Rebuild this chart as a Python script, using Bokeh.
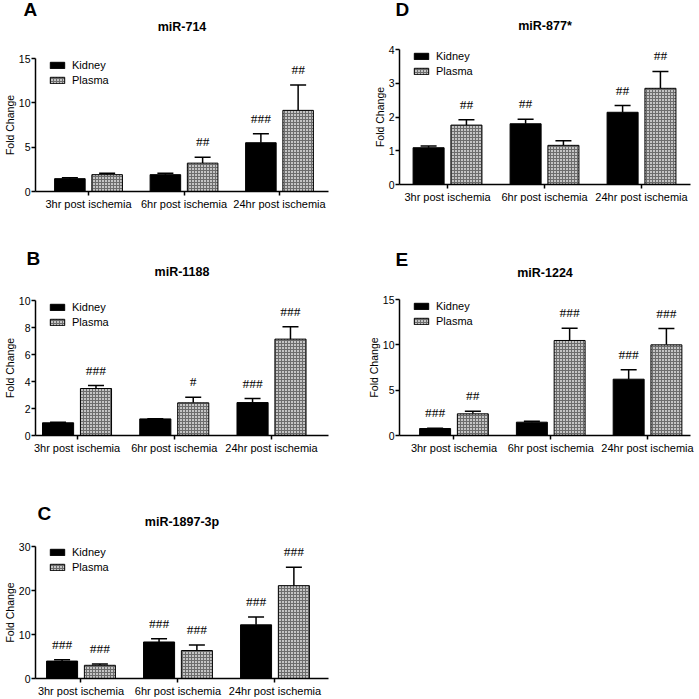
import numpy as np
from bokeh.plotting import figure
from bokeh.layouts import column, row
from bokeh.models import (Range1d, FixedTicker, ColumnDataSource, Whisker, TeeHead,
                          Legend, LegendItem, LabelSet, Title)
from bokeh.embed import file_html
from bokeh.resources import INLINE

# ---------------- data ----------------
categories = ["3hr post ischemia", "6hr post ischemia", "24hr post ischemia"]
series_names = ["Kidney", "Plasma"]

# A  miR-714
a_kidney = [1.45, 1.9, 5.5]
a_kidney_sem = [0.1, 0.15, 1.0]
a_plasma = [1.9, 3.2, 9.15]
a_plasma_sem = [0.15, 0.65, 2.85]
a_kidney_sig = ["", "", "###"]
a_plasma_sig = ["", "##", "##"]
a_yticks = [0, 5, 10, 15]

# D  miR-877*
d_kidney = [1.09, 1.8, 2.14]
d_kidney_sem = [0.05, 0.13, 0.2]
d_plasma = [1.76, 1.16, 2.85]
d_plasma_sem = [0.16, 0.14, 0.5]
d_kidney_sig = ["", "##", "##"]
d_plasma_sig = ["##", "", "##"]
d_yticks = [0, 1, 2, 3, 4]

# B  miR-1188
b_kidney = [0.94, 1.23, 2.44]
b_kidney_sem = [0.05, 0.02, 0.3]
b_plasma = [3.48, 2.42, 7.14]
b_plasma_sem = [0.22, 0.42, 0.92]
b_kidney_sig = ["", "", "###"]
b_plasma_sig = ["###", "#", "###"]
b_yticks = [0, 2, 4, 6, 8, 10]

# E  miR-1224
e_kidney = [0.77, 1.47, 6.21]
e_kidney_sem = [0.02, 0.1, 1.03]
e_plasma = [2.39, 10.48, 10.0]
e_plasma_sem = [0.29, 1.36, 1.8]
e_kidney_sig = ["###", "", "###"]
e_plasma_sig = ["##", "###", "###"]
e_yticks = [0, 5, 10, 15]

# C  miR-1897-3p
c_kidney = [3.96, 8.3, 12.2]
c_kidney_sem = [0.3, 0.75, 1.8]
c_plasma = [3.0, 6.36, 21.1]
c_plasma_sem = [0.3, 1.24, 4.2]
c_kidney_sig = ["###", "###", "###"]
c_plasma_sig = ["###", "###", "###"]
c_yticks = [0, 10, 20, 30]

# ---------------- styling ----------------
FONT = "Liberation Sans"
BAR_W = 0.32
DODGE = 0.195


def panel(letter, title, kid, kid_sem, pla, pla_sem, kid_sig, pla_sig, yticks,
          width, height, border, xr, letter_dx, spacer, title_standoff, letter_standoff):
    bl, br, bt, bb = border
    frame_h = height - bt - bb
    p = figure(width=width, height=height, output_backend="svg", toolbar_location=None,
               x_range=Range1d(*xr), y_range=Range1d(yticks[0], yticks[-1]),
               min_border_left=bl, min_border_right=br,
               min_border_top=bt, min_border_bottom=bb)
    p.title = None
    p.outline_line_color = None
    p.grid.visible = False
    p.background_fill_color = "white"
    p.border_fill_color = "white"

    idx = np.arange(len(categories))
    kid = np.array(kid, dtype=float)
    pla = np.array(pla, dtype=float)
    src_k = ColumnDataSource(dict(x=idx - DODGE, top=kid,
                                  upper=kid + np.array(kid_sem), sig=kid_sig))
    src_p = ColumnDataSource(dict(x=idx + DODGE, top=pla,
                                  upper=pla + np.array(pla_sem), sig=pla_sig))

    for src in (src_k, src_p):
        p.add_layout(Whisker(source=src, base="x", lower="top", upper="upper",
                             dimension="height", line_color="black", line_width=1.5,
                             upper_head=TeeHead(size=16, line_color="black", line_width=1.5),
                             lower_head=None, level="underlay"))

    rk = p.vbar(x="x", top="top", bottom=0, width=BAR_W, source=src_k,
                fill_color="black", line_color="black", line_width=1)
    rp = p.vbar(x="x", top="top", bottom=0, width=BAR_W, source=src_p,
                fill_color="#c4c4c4", hatch_pattern="cross", hatch_color="#6c6c6c",
                hatch_scale=3, hatch_weight=1, line_color="black", line_width=1)

    for src in (src_k, src_p):
        p.add_layout(LabelSet(source=src, x="x", y="upper", text="sig",
                              text_align="center", text_baseline="alphabetic",
                              y_offset=11, text_font=FONT, text_font_size="13.5px",
                              text_color="black"))

    # axes
    for ax in (p.xaxis[0], p.yaxis[0]):
        ax.axis_line_color = "black"
        ax.axis_line_width = 1.5
        ax.major_tick_line_color = "black"
        ax.major_tick_line_width = 1.5
        ax.major_tick_out = 4
        ax.major_tick_in = 0
        ax.minor_tick_line_color = None
        ax.major_label_text_font = FONT
        ax.major_label_text_color = "black"
    p.xaxis.major_label_standoff = 2
    p.yaxis.major_label_standoff = 1
    p.xaxis.ticker = FixedTicker(ticks=[int(i) for i in idx])
    p.xaxis.major_label_overrides = {int(i): c for i, c in enumerate(categories)}
    p.xaxis.major_label_text_font_size = "11px"
    p.yaxis.ticker = FixedTicker(ticks=yticks)
    p.yaxis.major_label_text_font_size = "10.5px"
    p.yaxis.axis_label = "Fold Change"
    p.yaxis.axis_label_text_font = FONT
    p.yaxis.axis_label_text_font_style = "normal"
    p.yaxis.axis_label_text_font_size = "10.5px"
    p.yaxis.axis_label_text_color = "black"
    p.yaxis.axis_label_standoff = 0

    # legend
    leg = Legend(items=[LegendItem(label=series_names[0], renderers=[rk]),
                        LegendItem(label=series_names[1], renderers=[rp])],
                 location=(13, frame_h - 29), orientation="vertical",
                 glyph_width=18, glyph_height=8, label_standoff=6,
                 label_height=14, spacing=1, padding=0, margin=0,
                 border_line_color=None, background_fill_alpha=0,
                 label_text_font=FONT, label_text_font_size="11px",
                 label_text_color="black")
    p.add_layout(leg)

    # spacer, title and panel letter (stacked upward from the frame)
    p.add_layout(Title(text=" ", standoff=spacer, text_font=FONT,
                       text_font_size="10px"), "above")
    p.add_layout(Title(text=title, align="center", standoff=title_standoff,
                       text_font=FONT, text_font_size="12.5px",
                       text_font_style="bold", text_color="black"), "above")
    p.add_layout(Title(text=letter, align="left", offset=letter_dx,
                       standoff=letter_standoff,
                       text_font=FONT, text_font_size="19px",
                       text_font_style="bold", text_color="black"), "above")
    return p


pA = panel("A", "miR-714", a_kidney, a_kidney_sem, a_plasma, a_plasma_sem,
           a_kidney_sig, a_plasma_sig, a_yticks,
           width=350, height=230, border=(35, 22, 58, 39),
           xr=(-0.555, 2.513), letter_dx=-12, spacer=7, title_standoff=10,
           letter_standoff=-15)
pB = panel("B", "miR-1188", b_kidney, b_kidney_sem, b_plasma, b_plasma_sem,
           b_kidney_sig, b_plasma_sig, b_yticks,
           width=350, height=230, border=(35, 22, 70, 25),
           xr=(-0.427, 2.586), letter_dx=-9, spacer=14, title_standoff=-10,
           letter_standoff=-3)
pC = panel("C", "miR-1897-3p", c_kidney, c_kidney_sem, c_plasma, c_plasma_sem,
           c_kidney_sig, c_plasma_sig, c_yticks,
           width=350, height=239, border=(35, 22, 86, 20),
           xr=(-0.469, 2.552), letter_dx=2, spacer=10, title_standoff=-10,
           letter_standoff=-13)
pD = panel("D", "miR-877*", d_kidney, d_kidney_sem, d_plasma, d_plasma_sem,
           d_kidney_sig, d_plasma_sig, d_yticks,
           width=349, height=230, border=(49, 9, 49, 46),
           xr=(-0.495, 2.505), letter_dx=-4, spacer=0, title_standoff=8,
           letter_standoff=-15)
pE = panel("E", "miR-1224", e_kidney, e_kidney_sem, e_plasma, e_plasma_sem,
           e_kidney_sig, e_plasma_sig, e_yticks,
           width=349, height=230, border=(49, 9, 69, 25),
           xr=(-0.563, 2.444), letter_dx=-4, spacer=12, title_standoff=-10,
           letter_standoff=-3)

layout = row(column(pA, pB, pC), column(pD, pE))
open("out.html", "w").write(file_html(layout, INLINE))
